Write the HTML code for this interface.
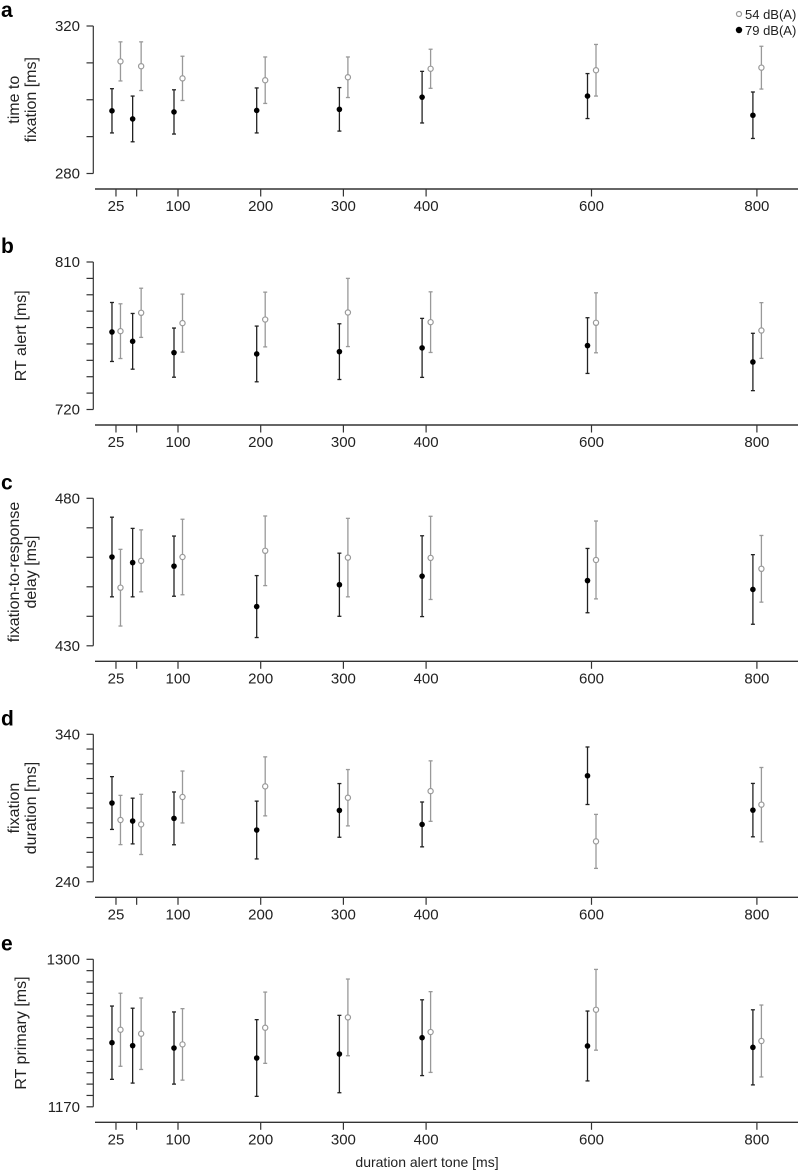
<!DOCTYPE html>
<html><head><meta charset="utf-8">
<style>
html,body{margin:0;padding:0;background:#fff;}
svg{display:block;font-family:"Liberation Sans",Arial,sans-serif;}
</style></head>
<body>
<svg id="chart" width="798" height="1172" viewBox="0 0 798 1172" xmlns="http://www.w3.org/2000/svg">
  <g>
    <circle cx="739" cy="14" r="2.5" fill="none" stroke="#999" stroke-width="1.2"/>
    <text x="745" y="19" font-size="13" fill="#222">54 dB(A)</text>
    <circle cx="739" cy="30" r="3.2" fill="#000"/>
    <text x="745" y="35" font-size="13" fill="#222">79 dB(A)</text>
  </g>
  <text x="427" y="1167" font-size="14" text-anchor="middle" fill="#222">duration alert tone [ms]</text>
</svg>
<script>
const categories = [25, 50, 100, 200, 300, 400, 600, 800];
const tickLabels = ["25", "", "100", "200", "300", "400", "600", "800"];
const panelLetters = ["a", "b", "c", "d", "e"];
const panelTitles = [["time to", "fixation [ms]"], ["RT alert [ms]"], ["fixation-to-response", "delay [ms]"], ["fixation", "duration [ms]"], ["RT primary [ms]"]];
const yMin = [280, 720, 430, 240, 1170];
const yMax = [320, 810, 480, 340, 1300];
const yStep = [10, 10, 10, 10, 10];

// means and half-error for 79 dB(A) (black) and 54 dB(A) (grey)
const loudA = [297.0, 294.8, 296.7, 297.1, 297.4, 300.7, 301.0, 295.8];
const loudAErr = [6.0, 6.2, 6.0, 6.1, 5.9, 7.0, 6.1, 6.3];
const softA = [310.4, 309.1, 305.8, 305.3, 306.1, 308.4, 308.0, 308.7];
const softAErr = [5.3, 6.6, 6.0, 6.3, 5.5, 5.3, 7.0, 5.8];

const loudB = [767.3, 761.6, 754.7, 753.9, 755.3, 757.6, 759.0, 749.0];
const loudBErr = [18, 17, 15, 17, 17, 18, 17, 17.5];
const softB = [767.8, 779.0, 772.7, 774.9, 779.2, 773.3, 772.9, 768.2];
const softBErr = [16.7, 15, 17.7, 16.7, 20.8, 18.5, 18.3, 17];

const loudC = [460.1, 458.2, 457.0, 443.3, 450.7, 453.6, 452.1, 449.1];
const loudCErr = [13.5, 11.6, 10.2, 10.5, 10.7, 13.7, 10.9, 11.8];
const softC = [449.7, 458.8, 460.1, 462.2, 459.9, 459.8, 459.1, 456.1];
const softCErr = [13, 10.5, 12.8, 11.8, 13.3, 14.1, 13.2, 11.3];

const loudD = [293.4, 281.2, 283.0, 275.1, 288.4, 278.9, 311.9, 288.6];
const loudDErr = [17.9, 15.5, 17.9, 19.6, 18.2, 15.2, 19.5, 18.1];
const softD = [281.9, 278.9, 297.5, 304.7, 297.0, 301.5, 267.4, 292.3];
const softDErr = [16.7, 20.4, 17.6, 20.0, 19.1, 20.5, 18.3, 25.2];

const loudE = [1226.5, 1223.9, 1221.8, 1213.0, 1216.5, 1230.9, 1223.6, 1222.4];
const loudEErr = [32.3, 33, 31.8, 33.8, 34.1, 33.4, 30.8, 33.1];
const softE = [1237.9, 1234.4, 1225.0, 1239.7, 1248.8, 1235.9, 1255.5, 1228.0];
const softEErr = [32.2, 31.5, 31.5, 31.4, 33.8, 35.6, 35.6, 31.7];

const loudSeries = [loudA, loudB, loudC, loudD, loudE];
const loudErrs = [loudAErr, loudBErr, loudCErr, loudDErr, loudEErr];
const softSeries = [softA, softB, softC, softD, softE];
const softErrs = [softAErr, softBErr, softCErr, softDErr, softEErr];

const NS = "http://www.w3.org/2000/svg";
const svg = document.getElementById("chart");
function mk(tag, attrs, parent) {
  const e = document.createElementNS(NS, tag);
  for (const k in attrs) e.setAttribute(k, attrs[k]);
  parent.appendChild(e);
  return e;
}
function xScale(ms) { return 95.3 + 0.827 * ms; }

const OFFSETS = [0, 236, 472.3, 708.3, 933.3];
const TOP = 26, BOT = 173.5, AXIS = 189;

for (let p = 0; p < 5; p++) {
  const off = OFFSETS[p];
  const g = mk("g", {}, svg);
  
  
  const y = v => off + BOT - (v - yMin[p]) / (yMax[p] - yMin[p]) * (BOT - TOP);

  const letter = mk("text", {x: 1, y: off + 17, "font-size": 21, "font-weight": "bold", fill: "#000"}, g);
  letter.textContent = panelLetters[p];
  
  

  const yAx = mk("line", {x1: 93.3, x2: 93.3, y1: y(yMax[p]), y2: y(yMin[p]), stroke: "#333", "stroke-width": 1.2}, g);
  
  
  for (let v = yMin[p]; v <= yMax[p] + 1e-6; v += yStep[p]) {
    const t = mk("line", {x1: 86.5, x2: 93.3, y1: y(v), y2: y(v), stroke: "#333", "stroke-width": 1.2}, g);
    
    
  }
  [yMin[p], yMax[p]].forEach(v => {
    const tl = mk("text", {x: 80, y: y(v) + 5, "font-size": 15, "text-anchor": "end", fill: "#222"}, g);
    tl.textContent = v;
    
    
  });

  const lines = panelTitles[p];
  const cy = off + (TOP + BOT) / 2;
  const tt = mk("text", {transform: "translate(0," + cy + ") rotate(-90)", "font-size": 16, "text-anchor": "middle", fill: "#222"}, g);
  
  
  lines.forEach((ln, i) => {
    const xPos = lines.length === 1 ? 26 : (i === 0 ? 19 : 36);
    const ts = mk("tspan", {x: 0, y: xPos}, tt);
    ts.textContent = ln;
  });

  const xAx = mk("line", {x1: 95, x2: 798, y1: off + AXIS, y2: off + AXIS, stroke: "#333", "stroke-width": 1.4}, g);
  
  
  categories.forEach((c, i) => {
    const xt = mk("line", {x1: xScale(c), x2: xScale(c), y1: off + AXIS, y2: off + AXIS + 7.5, stroke: "#333", "stroke-width": 1.2}, g);
    
    
    if (tickLabels[i]) {
      const xl = mk("text", {x: xScale(c), y: off + AXIS + 22, "font-size": 15, "text-anchor": "middle", fill: "#222"}, g);
      xl.textContent = tickLabels[i];
      
      
    }
  });

  const draw = (vals, errs, dx, color, filled, name) => {
    vals.forEach((v, i) => {
      const cx = xScale(categories[i]) + dx;
      const eg = mk("g", {}, g);
      
      
      const top = y(v + errs[i]), bot = y(v - errs[i]);
      mk("line", {x1: cx, x2: cx, y1: top, y2: bot, stroke: color, "stroke-width": 1.3}, eg);
      mk("line", {x1: cx - 2, x2: cx + 2, y1: top, y2: top, stroke: color, "stroke-width": 1.3}, eg);
      mk("line", {x1: cx - 2, x2: cx + 2, y1: bot, y2: bot, stroke: color, "stroke-width": 1.3}, eg);
      if (filled) mk("circle", {cx: cx, cy: y(v), r: 2.8, fill: "#000"}, eg);
      else mk("circle", {cx: cx, cy: y(v), r: 2.6, fill: "#fff", stroke: "#999", "stroke-width": 1.2}, eg);
    });
  };
  draw(loudSeries[p], loudErrs[p], -4, "#222", true, "db79");
  draw(softSeries[p], softErrs[p], 4.5, "#999", false, "db54");
}
</script>
</body></html>
